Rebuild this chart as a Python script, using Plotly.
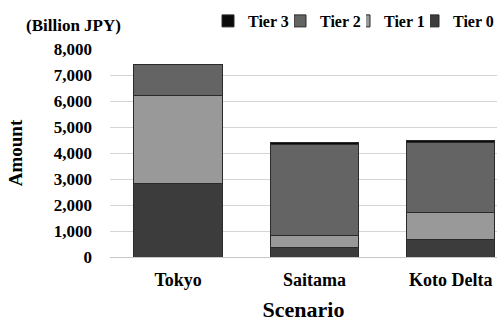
import plotly.graph_objects as go

categories = ["Tokyo", "Saitama", "Koto Delta"]
tier0 = [2820, 370, 665]
tier1 = [3395, 460, 1050]
tier2 = [1205, 3500, 2680]
tier3 = [0, 90, 80]
tier4 = [0, 0, 0]
series = [("Tier 0", tier0, "#3c3c3c", "legend5"), ("Tier 1", tier1, "#999999", "legend4"),
          ("Tier 2", tier2, "#646464", "legend3"), ("Tier 3", tier3, "#0a0a0a", "legend2"),
          ("Tier 4", tier4, "#c8c8c8", "legend")]
yticks = [0, 1000, 2000, 3000, 4000, 5000, 6000, 7000, 8000]

font = "'Liberation Serif', 'Times New Roman', serif"
fig = go.Figure()
for name, vals, col, leg in series:
    fig.add_trace(go.Bar(x=categories, y=vals, name=name, marker_color=col, legend=leg,
                         marker_line_color="#2a2a2a", marker_line_width=1, width=0.65))

legfont = dict(family=font, size=16, color="black", weight="bold")
legend_left_px = {"legend": 140, "legend2": 208, "legend3": 280, "legend4": 344, "legend5": 413}
legends = {k: dict(orientation="h", x=(v - 110) / 387, xanchor="left",
                   yref="container", y=1 - 21 / 322, yanchor="middle",
                   font=legfont, itemwidth=30)
           for k, v in legend_left_px.items()}

fig.update_layout(
    barmode="stack", width=497, height=322,
    margin=dict(l=110, r=0, t=49, b=65, autoexpand=False),
    plot_bgcolor="white", paper_bgcolor="white",
    font=dict(family=font, size=16, color="black"),
    **legends,
    xaxis=dict(range=[-0.5, 2.34], tickfont=dict(family=font, size=18, weight="bold"),
               ticklabelstandoff=6,
               title=dict(text="<b>Scenario</b>", font=dict(family=font, size=22), standoff=13),
               showline=True, linecolor="#c8c8c8", ticks="", automargin=False),
    yaxis=dict(range=[0, 8000], tickvals=yticks, tickformat=",", gridcolor="#d4d4d4",
               tickfont=dict(family=font, size=17, weight="bold"), ticks="",
               ticklabelstandoff=17,
               title=dict(text="<b>Amount</b>", font=dict(family=font, size=19), standoff=26),
               zeroline=False, automargin=False),
    annotations=[dict(text="<b>(Billion JPY)</b>", x=(73.5 - 110) / 387, y=(322 - 65 - 26) / 208,
                      xref="paper", yref="paper", xanchor="center", yanchor="middle",
                      showarrow=False, font=dict(family=font, size=17))],
)
fig.write_html("out.html", config={"displayModeBar": False},
               post_script="document.body.style.margin='0';")
